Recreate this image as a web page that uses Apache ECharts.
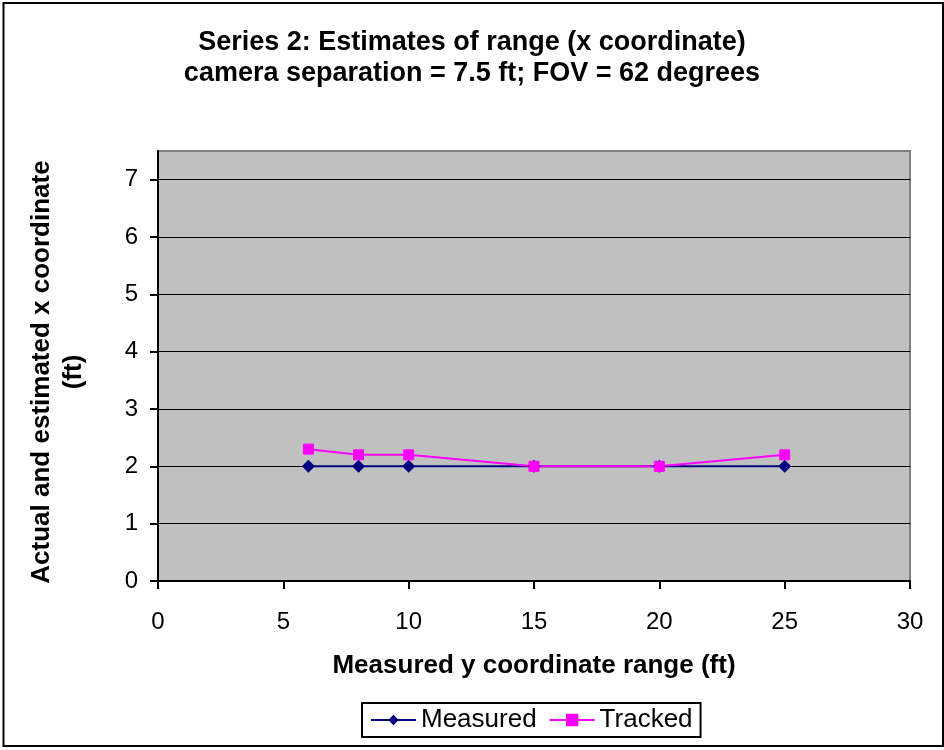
<!DOCTYPE html>
<html>
<head>
<meta charset="utf-8">
<script src="https://cdn.jsdelivr.net/npm/echarts@6/dist/echarts.min.js"></script>
<style>
html,body{margin:0;padding:0;background:#fff;}
#chart{width:944px;height:750px;}
</style>
</head>
<body>
<div id="chart"></div>
<script>
// Data
var xValues = [6, 8, 10, 15, 20, 25];
var measured = [2, 2, 2, 2, 2, 2];
var tracked = [2.3, 2.2, 2.2, 2.0, 2.0, 2.2];
var yTicks = [0, 1, 2, 3, 4, 5, 6, 7];
var titleText = 'Series 2: Estimates of range (x coordinate)\ncamera separation = 7.5 ft; FOV = 62 degrees';

function pairs(xs, ys) { return xs.map(function (x, i) { return [x, ys[i]]; }); }

var chart = echarts.init(document.getElementById('chart'), null, { renderer: 'canvas' });
var FONT = 'Liberation Sans, Arial, sans-serif';
chart.setOption({
  backgroundColor: '#ffffff',
  animation: false,
  title: {
    text: titleText,
    left: 'center',
    top: 22,
    textStyle: { fontFamily: FONT, fontSize: 27, fontWeight: 'bold', color: '#000', lineHeight: 31 }
  },
  grid: {
    left: 158, right: 34, top: 151, bottom: 169,
    show: true, backgroundColor: '#C0C0C0', borderColor: '#808080', borderWidth: 2
  },
  xAxis: {
    type: 'value', min: 0, max: 30, interval: 5,
    name: 'Measured y coordinate range (ft)', nameLocation: 'middle', nameGap: 72,
    nameTextStyle: { fontFamily: FONT, fontSize: 26, fontWeight: 'bold', color: '#000' },
    axisLine: { show: true, lineStyle: { color: '#000', width: 2 } },
    axisTick: { show: true, inside: false, length: 8, lineStyle: { color: '#000', width: 2 } },
    axisLabel: { fontFamily: FONT, fontSize: 24, color: '#000', margin: 29 },
    splitLine: { show: false }
  },
  yAxis: {
    type: 'value', min: 0, max: 7.5, interval: 1,
    name: 'Actual and estimated x coordinate\n(ft)', nameLocation: 'middle', nameGap: 68,
    nameTextStyle: { fontFamily: FONT, fontSize: 26, fontWeight: 'bold', color: '#000', lineHeight: 32, padding: [0, 12, 0, 0] },
    axisLine: { show: true, lineStyle: { color: '#000', width: 2 } },
    axisTick: { show: true, inside: false, length: 8, customValues: yTicks, lineStyle: { color: '#000', width: 2 } },
    axisLabel: { fontFamily: FONT, fontSize: 24, color: '#000', margin: 20, customValues: yTicks },
    splitLine: { show: true, lineStyle: { color: '#000', width: 1 } }
  },
  legend: {
    left: 362, top: 703,
    borderColor: '#000', borderWidth: 2,
    padding: [2, 8, 2, 8],
    itemWidth: 45, itemHeight: 13, itemGap: 12,
    textStyle: { fontFamily: FONT, fontSize: 26, color: '#000', lineHeight: 30 },
    data: ['Measured', 'Tracked']
  },
  series: [
    {
      name: 'Measured', type: 'line', data: pairs(xValues, measured),
      symbol: 'diamond', symbolSize: 13,
      lineStyle: { color: '#000080', width: 2 },
      itemStyle: { color: '#000080' }
    },
    {
      name: 'Tracked', type: 'line', data: pairs(xValues, tracked),
      symbol: 'rect', symbolSize: 10,
      lineStyle: { color: '#FF00FF', width: 2 },
      itemStyle: { color: '#FF00FF', borderColor: '#FF00FF', borderWidth: 1 }
    }
  ],
  graphic: [
    { type: 'rect', shape: { x: 3.5, y: 3, width: 939.5, height: 743 }, style: { fill: 'none', stroke: '#000', lineWidth: 2 }, silent: true }
  ]
});
</script>
</body>
</html>
